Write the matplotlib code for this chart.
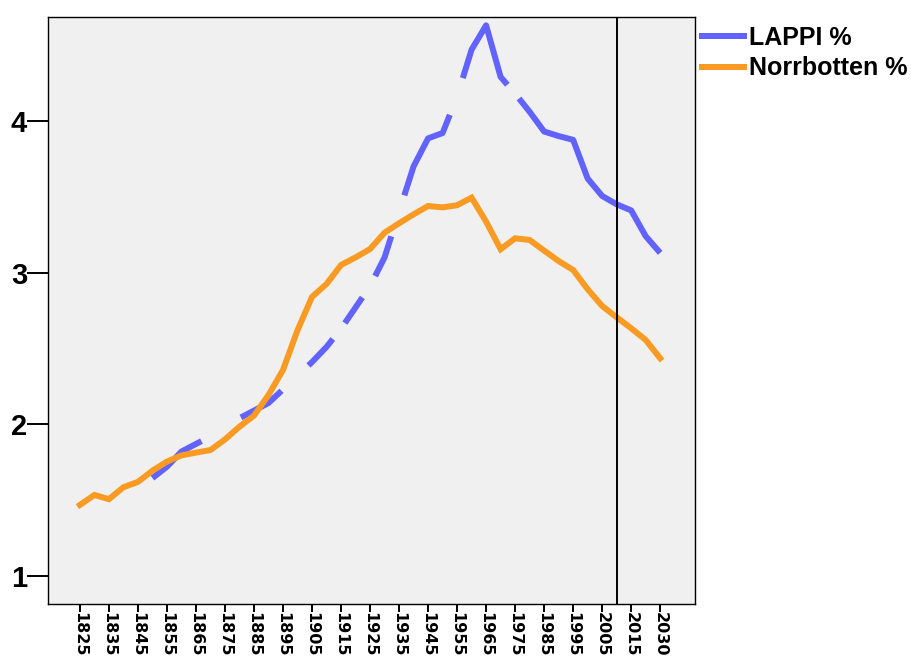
import numpy as np
import matplotlib
matplotlib.use("Agg")
import matplotlib.pyplot as plt
from matplotlib.lines import Line2D

# ---- data ----
years = [1825, 1830, 1835, 1840, 1845, 1850, 1855, 1860, 1865, 1870,
         1875, 1880, 1885, 1890, 1895, 1900, 1905, 1910, 1915, 1920,
         1925, 1930, 1935, 1940, 1945, 1950, 1955, 1960, 1965, 1970,
         1975, 1980, 1985, 1990, 1995, 2000, 2005, 2010, 2015, 2020, 2030]
nan = np.nan
lappi = [nan, nan, nan, nan, nan,
         1.645, 1.72, 1.82, 1.87, 1.92, 1.98, 2.04, 2.09, 2.14, 2.23,
         2.32, 2.41, 2.51, 2.63, 2.77, 2.91, 3.10, 3.40, 3.70, 3.885,
         3.92, 4.16, 4.47, 4.63, 4.29, 4.18, 4.06, 3.93, 3.90, 3.875,
         3.62, 3.505, 3.45, 3.41, 3.24, 3.13]
norrbotten = [1.468, 1.534, 1.506, 1.585, 1.62, 1.694, 1.754, 1.795, 1.813, 1.83,
              1.90, 1.984, 2.057, 2.193, 2.358, 2.62, 2.84, 2.925, 3.05, 3.10,
              3.155, 3.263, 3.325, 3.384, 3.439, 3.43, 3.444, 3.494, 3.336, 3.154,
              3.226, 3.215, 3.145, 3.076, 3.017, 2.89, 2.78, 2.705, 2.633, 2.556,
              2.435]
series_names = ["LAPPI %", "Norrbotten %"]
yticks = [1, 2, 3, 4]
ref_year = 2010

# ---- style ----
blue = "#6262fe"
orange = "#f99b23"
plt.rcParams["lines.scale_dashes"] = False
px = 72.0 / 100.0
dash_px = [62, 46, 49, 37, 36, 20, 31, 25, 43, 43, 97, 39, 122, 18, 3000, 10]
dash_pt = tuple(d * px for d in dash_px)

fig = plt.figure(figsize=(9.12, 6.59), dpi=100)
ax = fig.add_axes([48 / 912, 1 - 604 / 659, (695 - 48) / 912, (604 - 17) / 659])
ax.set_facecolor("#f0f0f0")

x = np.arange(len(years))
lw = 6 * px
ax.plot(x, lappi, color=blue, lw=lw, linestyle=(0, dash_pt),
        dash_capstyle="butt", solid_joinstyle="miter", zorder=2, label=series_names[0])
ax.plot(x, norrbotten, color=orange, lw=lw, solid_joinstyle="miter",
        zorder=3, label=series_names[1])
ax.axvline(years.index(ref_year), color="black", lw=1.4, zorder=4)

ax.set_xlim(-2.2, 42.4)
ax.set_ylim(0.815, 4.685)

ax.set_yticks(yticks)
ax.set_yticklabels([str(v) for v in yticks], fontfamily="Liberation Sans",
                   fontweight="bold", fontsize=21)
ax.set_xticks(x[::2])
ax.set_xticklabels([str(y) for y in years[::2]], rotation=-90,
                   fontfamily="DejaVu Sans", fontweight="bold", fontsize=11.5,
                   va="top", ha="center")
ax.tick_params(axis="y", length=15, width=1.4, pad=0, color="black")
ax.tick_params(axis="x", length=6, width=1.4, pad=0, color="black")
for s in ax.spines.values():
    s.set_linewidth(1.0)
    s.set_color("black")

handles = [Line2D([0], [0], color=blue, lw=lw), Line2D([0], [0], color=orange, lw=lw)]
fig.legend(handles, series_names, loc="upper left", bbox_to_anchor=(702 / 912, 1 - 26 / 659),
           frameon=False, prop={"family": "Liberation Sans", "weight": "bold", "size": 18},
           handlelength=1.7, handletextpad=0.2, labelspacing=0.25, borderpad=0,
           borderaxespad=0)

fig.savefig("out.png", dpi=100)
